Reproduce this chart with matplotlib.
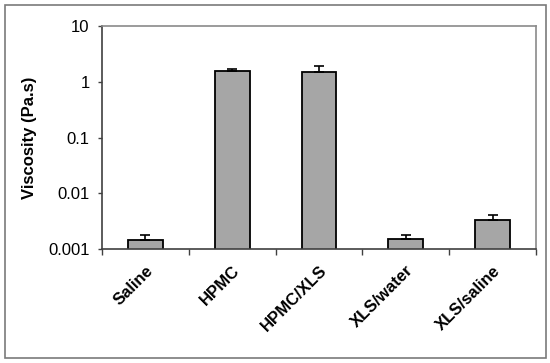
import matplotlib
matplotlib.use('Agg')
import matplotlib.pyplot as plt
from matplotlib.patches import Rectangle
import numpy as np

plt.rcParams['font.family'] = ['Liberation Sans', 'DejaVu Sans']

categories = ['Saline', 'HPMC', 'HPMC/XLS', 'XLS/water', 'XLS/saline']
viscosity = [0.00145, 1.58, 1.48, 0.00153, 0.00327]
viscosity_err = [0.00033, 0.09, 0.46, 0.00025, 0.0008]
y_ticks = [0.001, 0.01, 0.1, 1, 10]
y_tick_labels = ['0.001', '0.01', '0.1', '1', '10']

fig = plt.figure(figsize = (5.5, 3.63), dpi = 100)
ax = fig.add_axes([102/550, 1 - 249/363, 434/550, 223/363])

# outer frame round the whole chart
fig.patches.append(Rectangle((5/550, 5/363), 541/550, 353/363, transform = fig.transFigure,
                             fill = False, edgecolor = '#7a7a7a', linewidth = 1.2))

x = np.arange(len(categories))
ax.bar(x, viscosity, width = 0.4, color = '#a6a6a6', edgecolor = 'black', linewidth = 1.3, zorder = 2)
ax.errorbar(x, viscosity, yerr = [np.zeros(len(x)), viscosity_err], fmt = 'none',
            ecolor = 'black', elinewidth = 1.2, capsize = 3.3, capthick = 1.2, zorder = 3)

ax.set_yscale('log')
ax.set_ylim(0.001, 10)
ax.set_yticks(y_ticks)
ax.set_yticklabels(y_tick_labels)
ax.yaxis.set_minor_locator(matplotlib.ticker.NullLocator())
ax.tick_params(axis = 'y', direction = 'out', length = 3, width = 1, color = '#404040',
               labelsize = 12, pad = 6)

ax.set_xlim(-0.5, len(categories) - 0.5)
ax.set_xticks(x)
ax.set_xticklabels(categories, rotation = 45, ha = 'right', va = 'top',
                   rotation_mode = 'anchor', fontweight = 'bold', fontsize = 12)
ax.set_xticks(np.arange(-0.5, len(categories)), minor = True)
ax.tick_params(axis = 'x', which = 'major', length = 0, pad = 10)
ax.tick_params(axis = 'x', which = 'minor', direction = 'out', length = 4, width = 1, color = '#404040')

ax.set_ylabel('Viscosity (Pa.s)', fontweight = 'bold', fontsize = 12, labelpad = 8)

for side in ['left', 'bottom']:
    ax.spines[side].set_color('#404040')
    ax.spines[side].set_linewidth(1.2)
for side in ['top', 'right']:
    ax.spines[side].set_color('#8a8a8a')
    ax.spines[side].set_linewidth(1.2)

fig.savefig('out.png', dpi = 100)
